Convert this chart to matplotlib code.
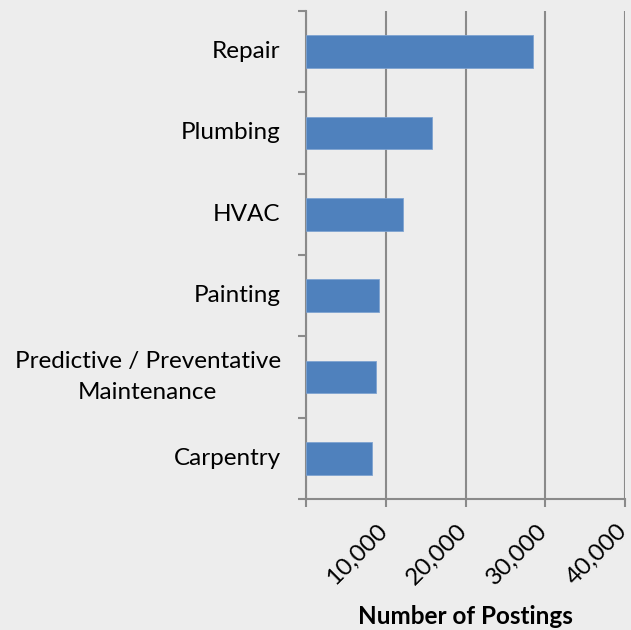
import matplotlib
matplotlib.use("Agg")
import matplotlib.pyplot as plt
from matplotlib.ticker import MultipleLocator, NullFormatter
from matplotlib import transforms

plt.rcParams['font.family'] = ['Lato', 'DejaVu Sans']

categories = ["Repair", "Plumbing", "HVAC", "Painting",
              "Predictive / Preventative\nMaintenance", "Carpentry"]
postings = [28500, 15800, 12200, 9200, 8800, 8300]
x_ticks = [0, 10000, 20000, 30000, 40000]

bg = "#EDEDED"
grid_c = "#8A8A8A"

fig = plt.figure(figsize=(6.31, 6.30), dpi=100, facecolor=bg)
ax = fig.add_axes([0.4845, 0.2075, 0.5065, 0.7755], facecolor=bg)

pos = list(range(len(categories)))[::-1]
ax.barh(pos, postings, height=0.4, color="#4F81BD", edgecolor="#7FA3D1",
        linewidth=0.6, zorder=3)

ax.set_xlim(x_ticks[0], x_ticks[-1])
ax.set_ylim(-0.5, len(categories) - 0.5)
ax.set_xticks(x_ticks)
ax.xaxis.set_major_formatter(NullFormatter())
ax.grid(axis="x", color=grid_c, linewidth=1.5, zorder=0)

# rotated x labels, anchored at the end of each label (0 has none)
trans = transforms.blended_transform_factory(ax.transData, ax.transAxes)
shift = transforms.ScaledTranslation(0.033, -0.327, fig.dpi_scale_trans)
for v in x_ticks[1:]:
    ax.text(v, 0, f"{v:,}", transform=trans + shift, rotation=45,
            rotation_mode="anchor", ha="right", va="baseline", fontsize=17.5)

ax.set_yticks(pos)
ax.set_yticklabels(categories, fontsize=17.5, ha="right",
                   multialignment="center", linespacing=1.62, va="center")
ax.set_yticks([i - 0.5 for i in range(len(categories) + 1)], minor=True)
ax.tick_params(axis="y", which="major", length=0, pad=18)
ax.tick_params(axis="y", which="minor", length=5.8, width=1.5, color=grid_c)
ax.tick_params(axis="x", length=5.8, width=1.5, color=grid_c)

for s in ["top", "right"]:
    ax.spines[s].set_visible(False)
for s in ["left", "bottom"]:
    ax.spines[s].set_color(grid_c)
    ax.spines[s].set_linewidth(1.5)

ax.set_xlabel("Number of Postings", fontsize=17.5, fontweight="bold", va="center")
ax.xaxis.set_label_coords(0.5, -0.239)

fig.savefig("out.png", dpi=100, facecolor=bg)
